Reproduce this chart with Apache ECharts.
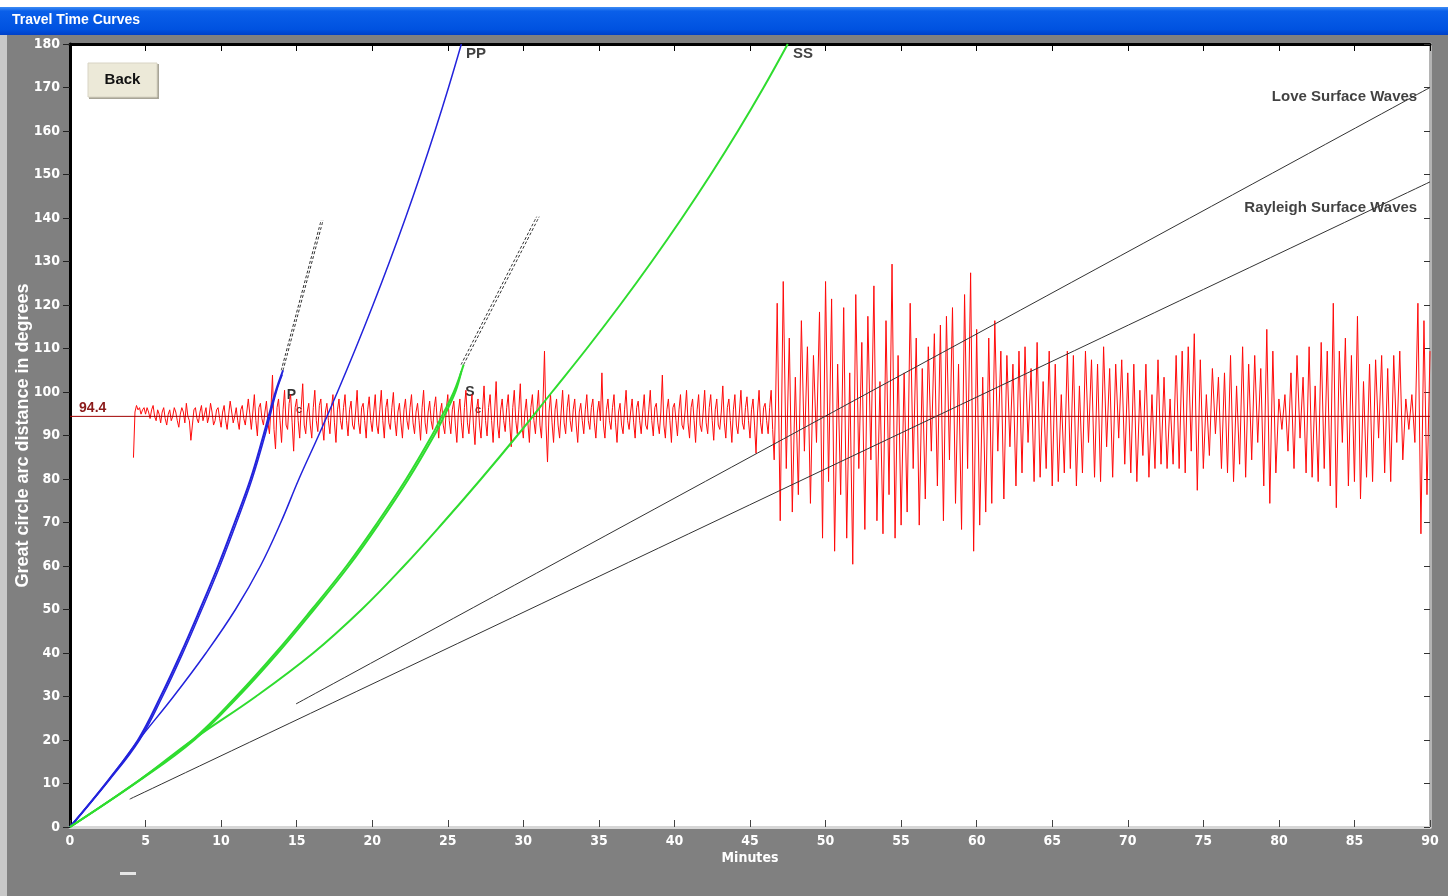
<!DOCTYPE html>
<html lang="en">
<head>
<meta charset="UTF-8">
<title>Travel Time Curves</title>
<script src="https://cdn.jsdelivr.net/npm/echarts@6/dist/echarts.min.js"></script>
<style>
    html, body { margin: 0; padding: 0; background: #fff; }
    #chart { width: 1448px; height: 896px; }
</style>
</head>
<body>
<div id="chart"></div>
<script>
// travel time curves: [minutes, degrees]
var pA = [[0,0],[2.55,10.8],[4.5,20],[6,30],[7.35,40],[8.6,50],[9.8,60],[10.9,70],[11.95,80],[12.8,90],[13.6,100],[14.1,105]];
var pB = [[0,0],[2.6,10.8],[4.6,20],[6.12,30],[7.47,40],[8.72,50],[9.92,60],[11.02,70],[12.05,80],[12.9,90],[13.65,100],[14.05,104]];
var pp = [[0,0],[2.55,10.8],[4.55,20],[6.85,30],[9,40],[10.95,50],[12.6,60],[13.95,70],[15.15,80],[16.45,90],[17.7,100],[18.9,110],[20.05,120],[21.15,130],[22.2,140],[23.2,150],[24.15,160],[25.05,170],[25.9,180]];
var sA = [[0,0],[4.6,10.8],[8.1,20],[11,30],[13.6,40],[16,50],[18.3,60],[20.35,70],[22.25,80],[23.95,90],[24.6,94.4],[25.4,100],[26.05,106.3]];
var sB = [[0,0],[4.65,10.8],[8.22,20],[11.14,30],[13.75,40],[16.15,50],[18.45,60],[20.5,70],[22.4,80],[24.1,90],[24.75,94.4],[25.5,100],[25.9,104.8]];
var ss = [[0,0],[4.6,10.8],[8.1,20],[12.3,30],[16.1,40],[19.3,50],[22.1,60],[24.7,70],[27.2,80],[29.6,90],[31.9,100],[34.2,110],[36.4,120],[38.5,130],[40.5,140],[42.4,150],[44.2,160],[45.9,170],[47.5,180]];
var pDashA = [[14.1,105],[16.75,139.5]];
var pDashB = [[13.98,105],[16.62,139.5]];
var sDashA = [[26.05,106.3],[31.05,140.3]];
var sDashB = [[25.88,106.3],[30.88,140.3]];
var love = [[14.96,28.3],[90,170]];
var rayleigh = [[3.95,6.4],[90,148.3]];

// seismogram at the station distance, deviations in degrees
var stationDist = 94.4;
// body waves part: every 0.1 min from 4.2 min
var quietStart = 4.2;
var quietStep = 0.1;
var traceQuiet = [
    -9.5, 1, 2.5, 1.5, 2, 0.5, 1.5, 2,                    // 4
    0.5, 2, 1, -0.5, 1.5, 2.5, 0, -1, 1.5, 0.5,           // 5
    -1.5, 1, 2, -0.5, -2, 0.5, 1.5, -1, 0, 2,             // 6
    1, -1, -2.5, 0.5, 2, 1, -1.5, 3, 0, -1,               // 7
    -5.5, -2, 1.5, 2, -0.5, -1.5, 1, 2.5, -1, 0.5,        // 8
    2, -1.5, 0, 3, 1, -2, -1, 1.5, 2, -0.5,               // 9
    -2.5, 1, 2.5, -1, -3, 0.5, 3.5, 1, -1.5, 0,           // 10
    2, -1, -3, 1.5, 2.5, -0.5, -2, 1, 4, 0.5,             // 11
    -3, 1, 5, -1, -4.5, 2, 3, -0.5, -2, 1,                // 12
    3.5, -1.5, -4, 2, 9.5, -3, -7.5, 2, 4, -1,            // 13
    -6, 1.5, 6, -2, -3, 3, 5, -1.5, -8, 2,                // 14
    4, -1, -5, 2, 7.5, -2, -4, 1, 3, -2,                  // 15
    -5, 2, 6, -1, -3.5, 2.5, 4, -2, -5.5, 1,              // 16
    3, -1, -4, 2, 5, -1.5, -6, 1.5, 4, -1,                // 17
    -3, 2, 5, -1, -4.5, 1.5, 3.5, -2, -3, 1,              // 18
    6, -1.5, -4, 2, 3, -1, -5, 1.5, 4.5, -1,              // 19
    -3.5, 1, 5, -2, -4, 1.5, 6, -1, -5, 2,                // 20
    4, -1.5, -3, 2, 5.5, -1, -4.5, 1, 3, -1.5,            // 21
    -5, 1.5, 4, -1, -3, 2, 5, -1.5, -4, 1,                // 22
    3, -1, -5.5, 2, 6, -1.5, -4, 1, 3.5, -1,              // 23
    -3, 2, 4.5, -1, -5, 1, 3, -2, -4, 1.5,                // 24
    5, -1, -4, 1.5, 3.5, -2, -6, 1, 4, -1.5,              // 25
    -5, 2, 6, -1.5, -4, 1, 5, -2, -6.5, 1.5,              // 26
    4, -2, -5, 1.5, 7, -1, -4.5, 2, 5, -1,                // 27
    -6, 1, 8, -2, -5, 1.5, 4, -1, -3.5, 2,                // 28
    5, -1.5, -7, 2, 6, -1, -4, 1.5, 7.5, -2,              // 29
    -5, 1, 4, -1.5, -6, 2, 5, -1, -4, 1.5,                // 30
    6, -2, -5, 3, 15, -2, -10.5, 1, 5, -1.5,              // 31
    -6, 1.5, 4, -2, -5, 1, 6, -1.5, -4, 2,                // 32
    5, -1, -3.5, 1.5, 4, -2, -6, 1, 3, -1,                // 33
    -4, 1.5, 5, -1, -3, 2, 4, -1.5, -5, 1,                // 34
    3.5, -1, 10, -2, -5, 1.5, 4, -1, -3, 2,               // 35
    5, -1.5, -6, 1, 3, -2, -4, 1.5, 6, -1,                // 36
    -3, 1, 4, -1.5, -5, 2, 3.5, -1, -4, 1,                // 37
    5, -2, -3, 1.5, 6, -1, -4.5, 2, 3, -1.5,              // 38
    -4, 1, 9.5, -2, -5, 1.5, 4, -1, -6, 2,                // 39
    3, -1, -4.5, 1.5, 5, -2, -3, 1, 6, -1.5,              // 40
    -5, 2, 4, -1, -6, 1.5, 5, -2, -3.5, 1,                // 41
    6, -1.5, -4, 2, 5, -1, -5.5, 1.5, 4, -2,              // 42
    -3, 1, 7, -1.5, -5, 2, 4, -1, -6, 1.5,                // 43
    5, -2, -4, 1, 6, -1.5, -3, 2, 4.5, -1,                // 44
    -5, 1.5, 4, -2, -8.5, 1, 6, -1.5, -4, 2,              // 45
    3, -1, -4, 2, 6, -3, -10, 4                           // 46
];
// surface waves part: every 0.2 min from 46.8 min
var loudStart = 46.8;
var loudStep = 0.2;
var traceLoud = [
    26,                        // 46.8
    -24, 31, -12, 18, -22,     // 47
    9, -18, 22, -8, 16,        // 48
    -20, 14, -6, 24, -28,      // 49
    31, -15, 27, -31, 12,      // 50
    -18, 25, -28, 10, -34,     // 51
    28, -12, 17, -26, 23,      // 52
    -10, 30, -24, 8, -27,      // 53
    22, -18, 35, -28, 14,      // 54
    -25, 10, -22, 26, -12,     // 55
    18, -25, 11, -19, 16,      // 56
    -8, 19, -16, 21, -24,      // 57
    23, -10, 25, -20, 12,      // 58
    -26, 28, -12, 33, -31,     // 59
    20, -25, 9, -22, 18,       // 60
    -20, 22, -8, 15, -19,      // 61
    14, -7, 12, -16, 15,       // 62
    -13, 16, -6, 11, -15,      // 63
    17, -14, 8, -12, 15,       // 64
    -16, 12, -15, 5, -13,      // 65
    15, -12, 14, -16, 7,       // 66
    -13, 15, -6, 13, -14,      // 67
    12, -15, 16, -7, 11,       // 68
    -14, 12, -5, 13, -11,      // 69
    10, -13, 12, -15, 6,       // 70
    -9, 12, -14, 5, -12,       // 71
    13, -11, 9, -12, 4,        // 72
    -11, 14, -12, 15, -13,     // 73
    16, -8, 19, -17, 13,       // 74
    -12, 5, -9, 11, -4,        // 75
    9, -12, 10, -13, 14,       // 76
    -15, 7, -11, 16, -14,      // 77
    12, -10, 14, -6, 11,       // 78
    -16, 20, -20, 15, -13,     // 79
    4, -3, 5, -8, 10,          // 80
    -12, 14, -5, 9, -13,       // 81
    16, -14, 7, -15, 17,       // 82
    -12, 15, -16, 26, -21,     // 83
    15, -6, 18, -16, 14,       // 84
    -15, 23, -19, 8, -14,      // 85
    12, -15, 13, -5, 14,       // 86
    -13, 11, -15, 14, -6,      // 87
    15, -10, 4, -3, 5,         // 88
    -6, 26, -27, 22, -18,      // 89
    15                         // 90
];

// text on the plot: [minutes, degrees]
var notes = [
    { text: 'PP', at: [26.2, 177.7], side: 'right' },
    { text: 'SS', at: [47.85, 177.7], side: 'right' },
    { text: 'Love Surface Waves', at: [89.15, 167.8], side: 'left' },
    { text: 'Rayleigh Surface Waves', at: [89.15, 142.3], side: 'left' }
];
var phaseNotes = [
    { text: 'P', at: [14.35, 99.3], size: 14 },
    { text: 'c', at: [14.95, 95.8], size: 11 },
    { text: 'S', at: [26.15, 100], size: 14 },
    { text: 'c', at: [26.8, 95.9], size: 11 }
];

var traceData = traceQuiet.map(function (d, i) {
    return [+(quietStart + i * quietStep).toFixed(2), stationDist + d];
}).concat(traceLoud.map(function (d, i) {
    return [+(loudStart + i * loudStep).toFixed(2), stationDist + d];
}));

var tickLabel = {
    color: '#fff',
    fontFamily: 'DejaVu Sans Condensed',
    fontWeight: 'bold',
    fontSize: 14,
    textShadowColor: 'rgba(0,0,0,0.75)',
    textShadowBlur: 0,
    textShadowOffsetX: 1,
    textShadowOffsetY: 1
};

function curve(name, data, color, width, dash) {
    return {
        name: name,
        type: 'line',
        data: data,
        smooth: 0.4,
        showSymbol: false,
        symbol: 'none',
        silent: true,
        lineStyle: { color: color, width: width, type: dash || 'solid' }
    };
}

var option = {
    animation: false,
    backgroundColor: '#808080',
    grid: {
        left: 70, right: 18, top: 44, bottom: 69, outerBoundsMode: 'none',
        show: true, backgroundColor: '#fff', borderWidth: 0
    },
    xAxis: [{
        type: 'value', min: 0, max: 90, interval: 5, position: 'bottom',
        name: 'Minutes', nameLocation: 'middle', nameGap: 24, nameMoveOverlap: false,
        nameTextStyle: tickLabel,
        axisLine: { lineStyle: { color: '#d6d6d6', width: 3 } },
        axisTick: { inside: true, length: 7, lineStyle: { color: '#444' } },
        axisLabel: Object.assign({ margin: 7 }, tickLabel),
        splitLine: { show: false }
    }, {
        type: 'value', min: 0, max: 90, interval: 5, position: 'top',
        axisLine: { onZero: false, lineStyle: { color: '#000', width: 3 } },
        axisTick: { inside: true, length: 7, lineStyle: { color: '#000' } },
        axisLabel: { show: false },
        splitLine: { show: false }
    }],
    yAxis: [{
        type: 'value', min: 0, max: 180, interval: 10, position: 'left',
        name: 'Great circle arc distance in degrees', nameLocation: 'middle', nameGap: 38,
        nameMoveOverlap: false,
        nameTextStyle: {
            color: '#fff', fontFamily: 'Liberation Sans', fontWeight: 'bold', fontSize: 18,
            textShadowColor: 'rgba(0,0,0,0.75)', textShadowBlur: 0, textShadowOffsetX: 1, textShadowOffsetY: 1
        },
        axisLine: { lineStyle: { color: '#000', width: 3 } },
        axisTick: { length: 7, lineStyle: { color: '#222' } },
        axisLabel: Object.assign({ margin: 10 }, tickLabel),
        splitLine: { show: false }
    }, {
        type: 'value', min: 0, max: 180, interval: 10, position: 'right',
        axisLine: { onZero: false, lineStyle: { color: '#b4b4b4', width: 3 } },
        axisTick: { inside: true, length: 6, lineStyle: { color: '#333' } },
        axisLabel: { show: false },
        splitLine: { show: false }
    }],
    series: [
        {
            name: 'trace', type: 'line', data: traceData, showSymbol: false, symbol: 'none',
            silent: true, sampling: 'none',
            lineStyle: { color: '#ff0a0a', width: 1 }
        },
        {
            name: 'station', type: 'line', data: [[0, stationDist], [90, stationDist]],
            showSymbol: false, symbol: 'none', silent: true,
            lineStyle: { color: '#a00000', width: 1 },
            markPoint: {
                symbolSize: 0,
                data: [{ coord: [0.6, 96.4], value: stationDist }],
                label: {
                    show: true, position: 'right', distance: 0, formatter: '94.4',
                    color: '#8b1a1a', fontFamily: 'Liberation Sans', fontWeight: 'bold', fontSize: 14
                }
            }
        },
        curve('P', pA, '#2323dc', 2),
        curve('P2', pB, '#2323dc', 1.5),
        curve('PP', pp, '#2323dc', 1.5),
        curve('S', sA, '#2fdc2f', 2),
        curve('S2', sB, '#2fdc2f', 2),
        curve('SS', ss, '#2fdc2f', 2),
        curve('Pd1', pDashA, '#333', 1, [3, 2]),
        curve('Pd2', pDashB, '#333', 1, [3, 2]),
        curve('Sd1', sDashA, '#333', 1, [3, 2]),
        curve('Sd2', sDashB, '#333', 1, [3, 2]),
        curve('Love', love, '#333', 1),
        curve('Rayleigh', rayleigh, '#333', 1),
        {
            name: 'notes', type: 'scatter', symbolSize: 0, silent: true,
            data: notes.map(function (n) {
                return {
                    value: n.at, name: n.text,
                    label: { show: true, position: n.side, distance: 0, formatter: n.text }
                };
            }),
            label: { color: '#111', fontFamily: 'Liberation Sans', fontWeight: 'bold', fontSize: 15 }
        },
        {
            name: 'phases', type: 'scatter', symbolSize: 0, silent: true,
            data: phaseNotes.map(function (n) {
                return {
                    value: n.at, name: n.text,
                    label: { show: true, position: 'right', distance: 0, formatter: n.text, fontSize: n.size }
                };
            }),
            label: { color: '#000', fontFamily: 'Liberation Sans', fontWeight: 'bold' }
        }
    ],
    graphic: [
        { type: 'rect', z: 100, shape: { x: 0, y: 0, width: 1448, height: 7 }, style: { fill: '#fff' } },
        { type: 'rect', z: 100, shape: { x: 0, y: 35, width: 7, height: 861 }, style: { fill: '#c8c8c8' } },
        {
            type: 'rect', z: 100, shape: { x: 0, y: 7, width: 1448, height: 28 },
            style: {
                fill: new echarts.graphic.LinearGradient(0, 0, 0, 1, [
                    { offset: 0, color: '#3d8cf5' },
                    { offset: 0.15, color: '#0a5fe9' },
                    { offset: 0.8, color: '#0052e0' },
                    { offset: 1, color: '#0040c8' }
                ])
            }
        },
        {
            type: 'text', z: 101, left: 12, top: 13,
            style: { text: 'Travel Time Curves', fill: '#fff', font: 'bold 14px "Liberation Sans"' }
        },
        // Back button
        { type: 'rect', z: 100, shape: { x: 89, y: 64, width: 70, height: 35 }, style: { fill: '#a8a597' } },
        { type: 'rect', z: 101, shape: { x: 88, y: 63, width: 69, height: 34 }, style: { fill: '#ece9d8', stroke: '#d8d4c4', lineWidth: 1 } },
        {
            type: 'text', z: 102, x: 122.5, y: 80,
            style: { text: 'Back', fill: '#111', font: 'bold 15px "Liberation Sans"', align: 'center', verticalAlign: 'middle' }
        },
        { type: 'rect', z: 100, shape: { x: 120, y: 872, width: 16, height: 3 }, style: { fill: '#e6e6e6' } }
    ]
};

var myChart = echarts.init(document.getElementById('chart'));
myChart.setOption(option);
</script>
</body>
</html>
